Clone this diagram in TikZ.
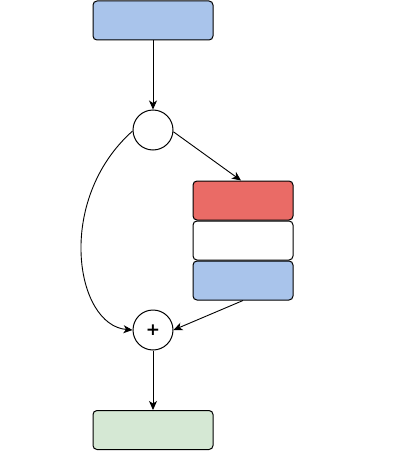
\documentclass[tikz,border=0pt]{standalone}
\usepackage{fontspec}
\newfontfamily\plusfont{DejaVu Sans}
\usetikzlibrary{arrows.meta}
\definecolor{cblue}{HTML}{A9C4EB}
\definecolor{cred}{HTML}{EA6B66}
\definecolor{cgreen}{HTML}{D5E8D4}
\begin{document}
\begin{tikzpicture}[x=1pt,y=-1pt,
  box/.style={draw,rounded corners=4pt,line width=1pt,minimum width=120pt,minimum height=39pt,inner sep=0pt},
  sbox/.style={box,minimum width=100pt},
  circ/.style={draw,circle,line width=1pt,minimum size=40pt,inner sep=0pt},
  arr/.style={-{Stealth[length=9pt,width=8pt,inset=2.5pt]},line width=0.9pt}]
\useasboundingbox (0,0) rectangle (401,460);
\node[box,fill=cblue] (top) at (153,20.5) {};
\node[circ] (c1) at (153,130) {};
\node[sbox,fill=cred] (red) at (243,200.5) {};
\node[sbox,fill=white] (white) at (243,240.5) {};
\node[sbox,fill=cblue] (blue) at (243,280.5) {};
\node[circ] (plus) at (153,330) {\fontsize{17}{17}\selectfont\plusfont\bfseries +};
\node[box,fill=cgreen] (green) at (153,430) {};
\draw[arr] (top) -- (c1);
\draw[arr] (c1.-5) -- ([xshift=-2pt]red.north);
\draw[arr] (c1.183) .. controls (55,200) and (75,325) .. (plus.west);
\draw[arr] (blue.south) -- (plus.east);
\draw[arr] (plus) -- (green);
\end{tikzpicture}
\end{document}
